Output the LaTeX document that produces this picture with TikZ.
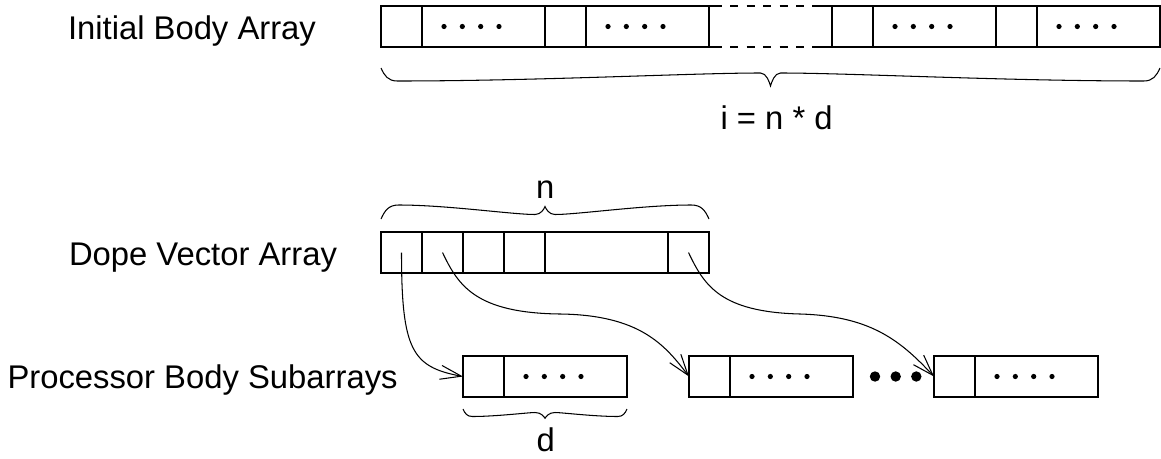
\documentclass[tikz,border=0pt]{standalone}
\usepackage{fontspec}
\setmainfont{Liberation Sans}
\usetikzlibrary{arrows.meta}
% brace: x0, x1, y, h1 (hook depth), h2 (level near tip), h3 (tip)
\newcommand\mybrace[6]{%
  \pgfmathsetmacro\bm{(#1+#2)/2}%
  \pgfmathsetmacro\bk{abs(#4)*0.9}%
  \draw[bracestyle] (#1,#3) .. controls ({#1+0.3*\bk},{#3+0.6*#4}) and ({#1+0.6*\bk},{#3+#4}) .. ({#1+1.4*\bk},{#3+#4})
    .. controls ({#1+0.4*(\bm-#1)},{#3+#4}) and ({\bm-0.2*(\bm-#1)},{#3+#5}) .. ({\bm-10},{#3+#5})
    .. controls ({\bm-4},{#3+#5}) and ({\bm-1},{#3+#6-0.2*#6}) .. (\bm,{#3+#6})
    .. controls ({\bm+1},{#3+#6-0.2*#6}) and ({\bm+4},{#3+#5}) .. ({\bm+10},{#3+#5})
    .. controls ({\bm+0.2*(#2-\bm)},{#3+#5}) and ({#2-0.4*(#2-\bm)},{#3+#4}) .. ({#2-1.4*\bk},{#3+#4})
    .. controls ({#2-0.6*\bk},{#3+#4}) and ({#2-0.3*\bk},{#3+0.6*#4}) .. (#2,#3);
}
\begin{document}
\begin{tikzpicture}[x=1pt,y=-1pt,line width=1.15pt,
  cell/.style={draw,rectangle,inner sep=0pt,outer sep=0pt,minimum height=41pt,anchor=north west},
  sc/.style={cell,minimum width=41pt},
  bc/.style={cell,minimum width=123pt},
  lbl/.style={inner sep=0pt,outer sep=0pt,anchor=base west,font=\fontsize{32.8}{38}\selectfont},
  ptr/.style={line width=1.05pt,-{Straight Barb[length=21pt,width=14pt]}},
  bracestyle/.style={line width=1.05pt},
  gapdash/.style={dash pattern=on 12.5pt off 8.5pt on 8pt off 8.5pt on 8pt off 8.5pt on 8pt off 8.5pt on 8pt off 8.5pt on 8pt off 8pt on 40pt}]
\useasboundingbox (0,0) rectangle (1161,458);

% labels
\node[lbl] (l1) at (68,39.3) {Initial Body Array};
\node[lbl] (l2) at (69,265) {Dope Vector Array};
\node[lbl] (l3) at (7.5,388.3) {Processor Body Subarrays};
\node[lbl] (l4) at (720.5,129.3) {i = n * d};
\node[lbl,anchor=base] (l5) at (545.3,198.3) {n};
\node[lbl,anchor=base] (l6) at (545.8,451) {d};

% initial body array
\node[sc] (t1) at (381,6) {};
\node[bc] (t2) at (422,6) {};
\node[sc] (t3) at (545,6) {};
\node[bc] (t4) at (586,6) {};
\node[sc] (t6) at (832,6) {};
\node[bc] (t7) at (873,6) {};
\node[sc] (t8) at (996,6) {};
\node[bc] (t9) at (1037,6) {};
\draw[gapdash] (t4.north east) -- (t6.north west);
\draw[gapdash] (t4.south east) -- (t6.south west);

% dope vector array
\node[sc] (d1) at (381,232) {};
\node[sc] (d2) at (422,232) {};
\node[sc] (d3) at (463,232) {};
\node[sc] (d4) at (504,232) {};
\node[bc] (d5) at (545,232) {};
\node[sc] (d6) at (668,232) {};

% processor body subarrays
\node[sc] (p1a) at (463,356) {};
\node[bc] (p1b) at (504,356) {};
\node[sc] (p2a) at (689,356) {};
\node[bc] (p2b) at (730,356) {};
\node[sc] (p3a) at (934,356) {};
\node[bc] (p3b) at (975,356) {};

% small dots
\foreach \c in {t2,t4,t7,t9,p1b,p2b,p3b}
  \foreach \k in {0,...,3}
    \fill ([xshift={22pt+18.33pt*\k}]\c.west) circle (2.6pt);

% big dots
\fill (875,376.5) circle (5.2pt);
\fill (895.7,376.5) circle (5.2pt);
\fill (916.3,376.5) circle (5.2pt);

% braces
\mybrace{381}{1160}{68}{13}{5}{18}
\mybrace{381}{709}{219}{-14}{-4.5}{-12.5}
\mybrace{463}{627}{409}{7.5}{3.5}{9.3}

% pointers
\draw[ptr] (d1.center) .. controls (401.5,350) and (412,367) .. (p1a.west);
\draw[ptr] (d2.center) .. controls (458,285) and (475,313) .. (560,314)
  .. controls (640,315) and (665,345) .. (p2a.west);
\draw[ptr] (d6.center) .. controls (704,285) and (720,312) .. (800,314)
  .. controls (870,316) and (900,340) .. (p3a.west);
\end{tikzpicture}
\end{document}
